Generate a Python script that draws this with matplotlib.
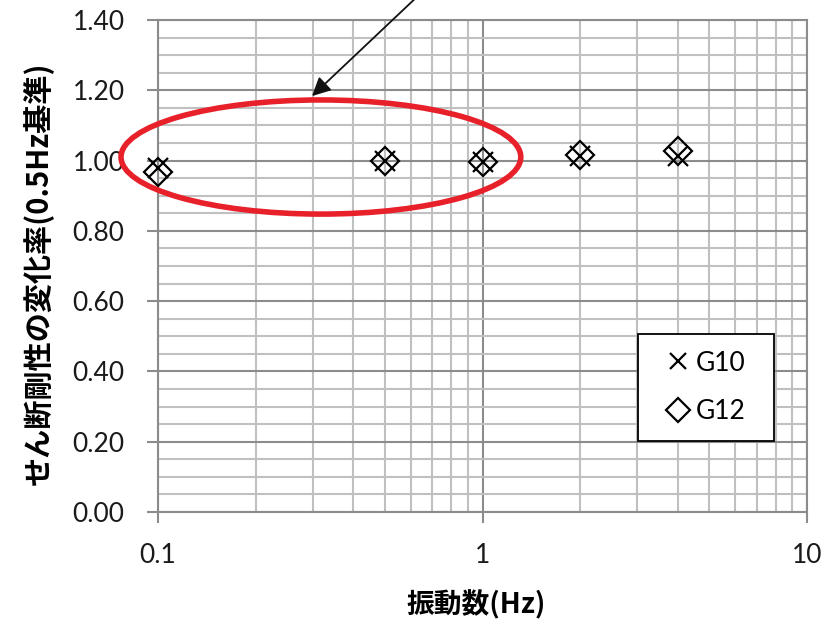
import matplotlib
matplotlib.use("Agg")
import matplotlib.pyplot as plt
from matplotlib.patches import Ellipse, Rectangle, FancyArrowPatch
from matplotlib.ticker import FixedLocator, NullFormatter, MultipleLocator

# frequency (Hz) and stiffness ratio normalised at 0.5 Hz
freq = [0.1, 0.5, 1, 2, 4]
g10 = [0.98, 1.00, 0.995, 1.013, 1.013]
g12 = [0.967, 1.00, 0.995, 1.016, 1.026]
x_ticks = [0.1, 1, 10]
x_ticklabels = ["0.1", "1", "10"]
y_ticks = [0.0, 0.2, 0.4, 0.6, 0.8, 1.0, 1.2, 1.4]

jp = ["Noto Sans CJK JP", "DejaVu Sans"]
num_font = "Lato"

fig = plt.figure(figsize=(8.3, 6.19), dpi=100)
ax = fig.add_axes([158 / 830, 1 - 512 / 619, 649 / 830, 492 / 619])

ax.set_xscale("log")
ax.set_xlim(0.1, 10)
ax.set_ylim(0, 1.4)

# grid: minor every 0.05 / log sub-decades, major darker
ax.xaxis.set_major_locator(FixedLocator(x_ticks))
ax.xaxis.set_minor_locator(FixedLocator([m * d for d in (0.1, 1) for m in range(2, 10)]))
ax.xaxis.set_minor_formatter(NullFormatter())
ax.yaxis.set_major_locator(FixedLocator(y_ticks))
ax.yaxis.set_minor_locator(MultipleLocator(0.05))
ax.grid(which="minor", color="#c0c0c0", lw=1.5)
ax.grid(which="major", color="#8c8c8c", lw=1.5)
ax.set_axisbelow(True)

ax.set_xticklabels(x_ticklabels)
ax.set_yticklabels([f"{v:.2f}" for v in y_ticks])
ax.tick_params(which="major", direction="out", length=8, width=1.5, color="#8c8c8c",
               labelsize=19)
ax.tick_params(which="minor", length=0)
ax.tick_params(axis="y", pad=16)
ax.tick_params(axis="x", pad=14)
for lab in ax.get_xticklabels() + ax.get_yticklabels():
    lab.set_fontfamily(num_font)
    lab.set_color("#1a1a1a")
for sp in ax.spines.values():
    sp.set_color("#8c8c8c")
    sp.set_linewidth(1.5)

ax.plot(freq, g10, ls="none", marker="x", ms=14, mew=1.6, color="k", label="G10",
        zorder=3, clip_on=False)
ax.plot(freq, g12, ls="none", marker="D", ms=14, mew=1.6, mfc="none", mec="k",
        label="G12", zorder=3, clip_on=False)

ax.set_ylabel("せん断剛性の変化率(0.5Hz基準)", fontfamily=jp, fontweight="bold",
              fontsize=21)
ax.yaxis.set_label_coords(-(158 - 38) / 649, (512 - 273) / 492)
ax.set_xlabel("振動数(Hz)", fontfamily=jp, fontweight="bold", fontsize=20)
ax.xaxis.set_label_coords((476 - 158) / 649, -(605 - 512) / 492)
ax.xaxis.label.set_va("center")
ax.yaxis.label.set_va("center")

# legend box
box = Rectangle((0.7396, 0.1443), 0.2094, 0.2175, transform=ax.transAxes,
                facecolor="white", edgecolor="black", lw=1.3, zorder=4)
ax.add_patch(box)
leg = ax.legend(loc="center", bbox_to_anchor=(0.7396, 0.1443, 0.2094, 0.2175),
                frameon=False, prop={"family": num_font, "size": 19},
                markerscale=0.85, handlelength=0.9, handletextpad=0.25,
                labelspacing=0.9)
leg.set_zorder(5)

# highlight ring around the low-frequency points
ring = Ellipse((0.251, 0.7215), 0.616, 0.232, transform=ax.transAxes,
               fill=False, edgecolor="#e8202a", lw=4, zorder=6, clip_on=False)
ax.add_patch(ring)

fig.patches.append(FancyArrowPatch(
    (420 / 830, 1 + 6 / 619), (310 / 830, 1 - 98 / 619), transform=fig.transFigure,
    arrowstyle="-|>", mutation_scale=28, lw=1.3, color="#111111"))

fig.savefig("out.png", dpi=100)
